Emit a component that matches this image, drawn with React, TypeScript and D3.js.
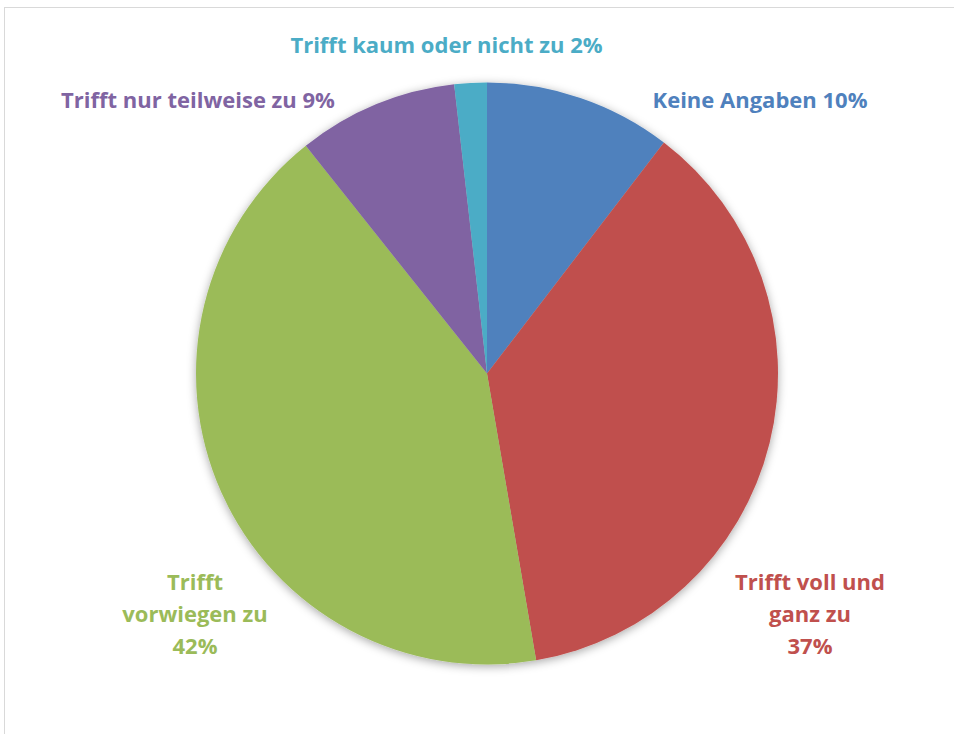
import React, { useEffect, useRef } from 'react';
import * as d3 from 'd3';

// slice data, clockwise from 12 o'clock
const categories = [
  'Keine Angaben',
  'Trifft voll und ganz zu',
  'Trifft vorwiegen zu',
  'Trifft nur teilweise zu',
  'Trifft kaum oder nicht zu',
];
const values = [10.4, 36.9, 42.0, 8.9, 1.8];
const colors = ['#4F81BD', '#C0504D', '#9BBB59', '#8064A2', '#4BACC6'];

// label text lines (the percentage is appended to the last line)
const labelLines = [
  ['Keine Angaben'],
  ['Trifft voll und', 'ganz zu'],
  ['Trifft', 'vorwiegen zu'],
  ['Trifft nur teilweise zu'],
  ['Trifft kaum oder nicht zu'],
];

const W = 954;
const H = 734;

const App = () => {
  const svgRef = useRef<SVGSVGElement>(null);

  useEffect(() => {
    const svg = d3.select(svgRef.current);
    svg.selectAll('*').remove();

    // chart frame
    svg.append('rect')
      .attr('x', 4.5)
      .attr('y', 7.5)
      .attr('width', W + 20)
      .attr('height', H + 20)
      .attr('fill', '#fff')
      .attr('stroke', '#d9d9d9')
      .attr('stroke-width', 1);

    const defs = svg.append('defs');
    const filter = defs.append('filter')
      .attr('id', 'pie-shadow')
      .attr('x', '-10%').attr('y', '-10%')
      .attr('width', '120%').attr('height', '120%');
    filter.append('feDropShadow')
      .attr('dx', 0)
      .attr('dy', 2)
      .attr('stdDeviation', 5)
      .attr('flood-color', '#000')
      .attr('flood-opacity', 0.35);

    const cx = 487;
    const cy = 373.5;
    const r = 291;

    const total = d3.sum(values);
    const pie = d3.pie<number>().sort(null).value(d => d);
    const arcs = pie(values);
    const arc = d3.arc<d3.PieArcDatum<number>>().innerRadius(0).outerRadius(r);

    const g = svg.append('g').attr('transform', `translate(${cx},${cy})`);
    g.append('g')
      .attr('filter', 'url(#pie-shadow)')
      .selectAll('path')
      .data(arcs)
      .enter().append('path')
      .attr('d', arc)
      .attr('fill', (_, i) => colors[i]);

    // label anchor positions relative to pie center (Excel "best fit" placement)
    const labelPos = [
      { x: 273, y: -266 },
      { x: 323, y: 216.5 },
      { x: -292, y: 216.5 },
      { x: -289, y: -266 },
      { x: -40.5, y: -320.5 },
    ];
    const lineH = 32;

    arcs.forEach((a, i) => {
      const pct = Math.round((a.data / total) * 100) + '%';
      const lines = labelLines[i].slice();
      if (lines.length === 1) lines[0] = lines[0] + ' ' + pct;
      else lines.push(pct);
      const t = g.append('text')
        .attr('text-anchor', 'middle')
        .attr('font-family', '"Open Sans", Lato, sans-serif')
        .attr('font-weight', 'bold')
        .attr('font-size', 22)
        .attr('fill', colors[i]);
      lines.forEach((ln, j) => {
        t.append('tspan')
          .attr('x', labelPos[i].x)
          .attr('y', labelPos[i].y + j * lineH)
          .text(ln);
      });
    });
  }, []);

  return (
    <svg
      ref={svgRef}
      width={W}
      height={H}
      style={{ position: 'absolute', left: 0, top: 0, display: 'block' }}
    />
  );
};

export default App;
